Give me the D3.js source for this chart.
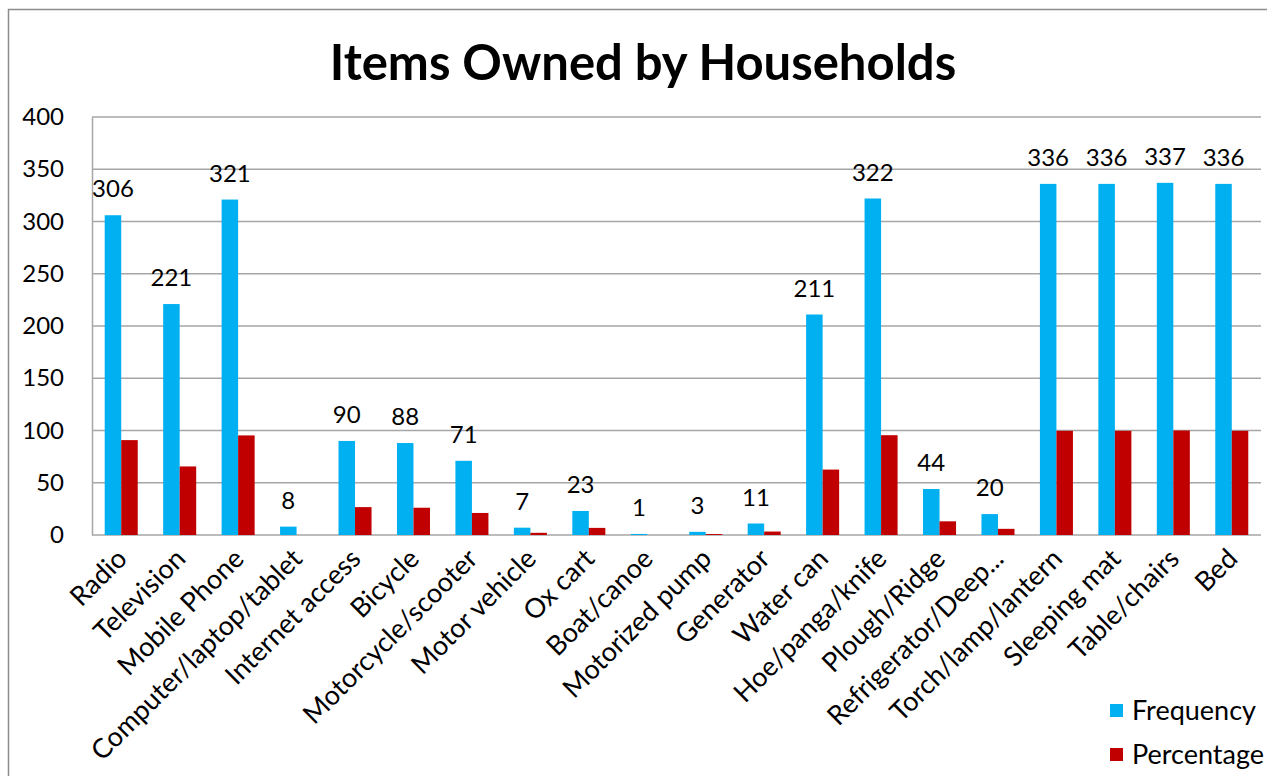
<!DOCTYPE html>
<html>
<head>
<meta charset="utf-8">
<script src="https://cdn.jsdelivr.net/npm/d3@7"></script>
<style>
  body { margin: 0; background: #fff; }
  svg { display: block; font-family: Lato, "Open Sans", sans-serif; }
</style>
</head>
<body>
<svg id="chart"></svg>
<script>
var width = 1267,
    height = 776;

// data
var items = ["Radio", "Television", "Mobile Phone", "Computer/laptop/tablet", "Internet access",
  "Bicycle", "Motorcycle/scooter", "Motor vehicle", "Ox cart", "Boat/canoe", "Motorized pump",
  "Generator", "Water can", "Hoe/panga/knife", "Plough/Ridge", "Refrigerator/Deep...",
  "Torch/lamp/lantern", "Sleeping mat", "Table/chairs", "Bed"];
var frequency = [306, 221, 321, 8, 90, 88, 71, 7, 23, 1, 3, 11, 211, 322, 44, 20, 336, 336, 337, 336];
var percentage = [90.8, 65.6, 95.3, 0, 26.7, 26.1, 21.1, 2.1, 6.8, 0, 0.9, 3.3, 62.6, 95.5, 13.1, 5.9, 99.7, 99.7, 100, 99.7];
var seriesNames = ["Frequency", "Percentage"];
var colors = ["#00B0F0", "#C00000"];
var yTicks = [0, 50, 100, 150, 200, 250, 300, 350, 400];

var margin = {left: 92, right: 6, top: 117, bottom: 241};

var svg = d3.select('#chart')
            .attr('width', width)
            .attr('height', height);

// outer frame
svg.append('rect')
   .attr('x', 8.5).attr('y', 9.5)
   .attr('width', 1270).attr('height', 800)
   .attr('fill', 'none')
   .attr('stroke', '#8c8c8c')
   .attr('stroke-width', 1.5);

svg.append('text')
   .attr('x', 643)
   .attr('y', 80)
   .attr('text-anchor', 'middle')
   .attr('font-weight', 'bold')
   .attr('font-size', 49)
   .text('Items Owned by Households');

var x0 = d3.scaleBand()
            .domain(items)
            .range([margin.left, width - margin.right])
            .padding(0);

var x1 = d3.scaleBand()
            .domain(seriesNames)
            .range([0, x0.bandwidth()])
            .paddingInner(0)
            .paddingOuter(0.77);

var y = d3.scaleLinear()
           .domain([0, 400])
           .range([height - margin.bottom, margin.top]);

// gridlines
svg.append('g')
   .selectAll('line')
   .data(yTicks)
   .enter()
   .append('line')
     .attr('x1', margin.left)
     .attr('x2', width - margin.right)
     .attr('y1', d => y(d))
     .attr('y2', d => y(d))
     .attr('stroke', '#a6a6a6')
     .attr('stroke-width', 1.5);

// y axis
var yAxis = svg.append('g')
   .attr('transform', 'translate(' + margin.left + ',0)')
   .call(d3.axisLeft(y).tickValues(yTicks).tickSize(0).tickPadding(28));
yAxis.select('.domain').attr('stroke', '#a6a6a6').attr('stroke-width', 1.5);
yAxis.selectAll('text')
     .attr('font-size', 24)
     .attr('font-family', 'Lato, sans-serif')
     .attr('fill', '#000');

var rows = items.map((d, i) => ({item: d, values: [frequency[i], percentage[i]]}));

var groups = svg.append('g')
   .selectAll('.grp')
   .data(rows)
   .enter()
   .append('g')
     .classed('grp', true)
     .attr('transform', d => 'translate(' + x0(d.item) + ',0)');

groups.selectAll('rect')
   .data(d => d.values.map((v, j) => ({key: seriesNames[j], value: v, j: j})))
   .enter()
   .append('rect')
     .attr('x', d => x1(d.key))
     .attr('width', x1.bandwidth())
     .attr('y', d => y(d.value))
     .attr('height', d => y(0) - y(d.value))
     .attr('fill', d => colors[d.j]);

// data labels over frequency bars
groups.append('text')
   .attr('x', d => x1('Frequency') + x1.bandwidth() / 2)
   .attr('y', d => y(d.values[0]) - 18)
   .attr('text-anchor', 'middle')
   .attr('font-size', 24)
   .text(d => d.values[0]);

// category labels
svg.append('g')
   .selectAll('text')
   .data(items)
   .enter()
   .append('text')
     .attr('text-anchor', 'end')
     .attr('font-size', 27)
     .attr('transform', d => 'translate(' + (x0(d) + x0.bandwidth() / 2 - 6) + ',' + (y(0) + 12) + ') rotate(-45)')
     .attr('dy', '0.7em')
     .text(d => d);

// legend
var legend = svg.append('g')
   .selectAll('g')
   .data(seriesNames)
   .enter()
   .append('g')
     .attr('transform', (d, i) => 'translate(1110,' + (704 + i * 44) + ')');
legend.append('rect')
   .attr('width', 13).attr('height', 13)
   .attr('fill', (d, i) => colors[i]);
legend.append('text')
   .attr('x', 22)
   .attr('y', 7)
   .attr('dy', '0.35em')
   .attr('font-size', 27)
   .text(d => d);
</script>
</body>
</html>
